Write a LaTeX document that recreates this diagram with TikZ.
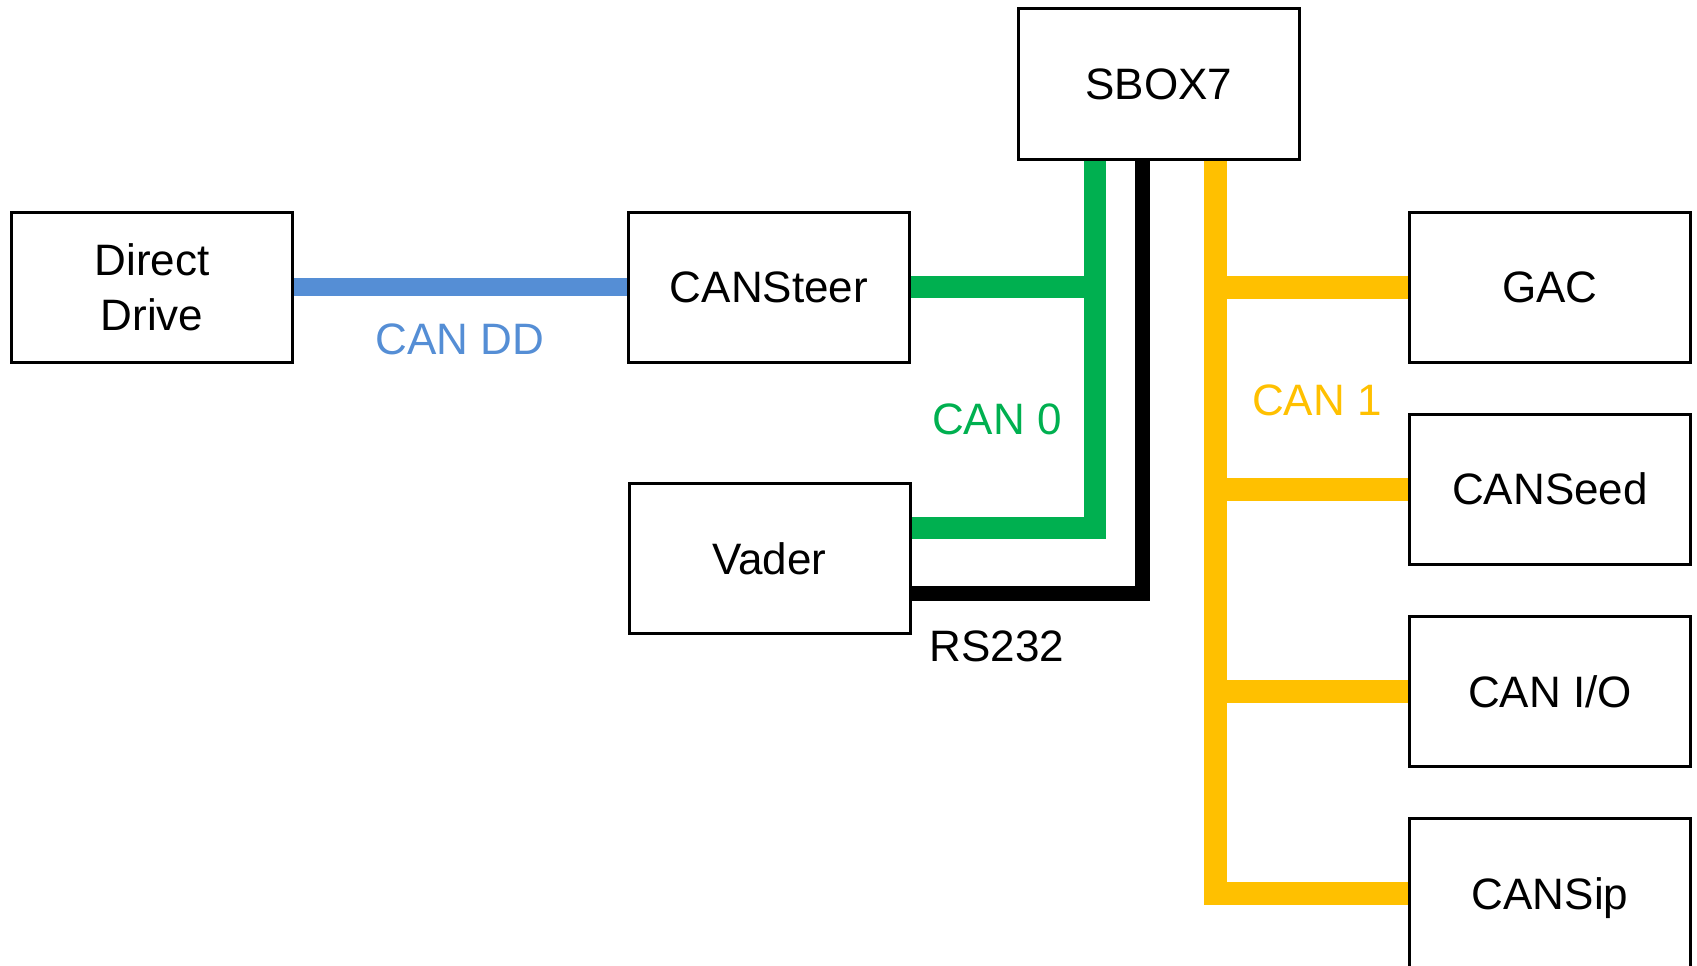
\documentclass[tikz,border=0pt]{standalone}
\usepackage{fontspec}
\setmainfont{Liberation Sans}
\usetikzlibrary{calc,backgrounds}
\definecolor{canblue}{HTML}{558ED5}
\definecolor{cangreen}{HTML}{00B050}
\definecolor{canyellow}{HTML}{FFC000}
\begin{document}
\begin{tikzpicture}[x=1pt,y=-1pt,
  box/.style={draw=black, fill=white, line width=3pt, minimum width=281pt, minimum height=150pt,
    inner sep=0pt, outer sep=0pt, font=\fontsize{44}{55}\selectfont, align=center},
  caps/.style={text height=31.5pt, text depth=0pt},
  lbl/.style={inner sep=0pt, font=\fontsize{44}{55}\selectfont, text height=31.5pt, text depth=0pt},
  ddbus/.style={line width=18pt, canblue},
  greenbus/.style={line width=22pt, cangreen},
  rsbus/.style={line width=15pt, black},
  yellowbus/.style={line width=23pt, canyellow}
]
\useasboundingbox (0,0) rectangle (1697,966);

\node[box, caps] (sbox) at (1159,84) {SBOX7};
\node[box] (dd) at (152,287) {Direct\\Drive};
\node[box, caps] (steer) at (769,287) {CANSteer};
\node[box, caps] (vader) at (769.5,558.5) {Vader};
\node[box, caps] (gac) at (1550,287) {GAC};
\node[box, caps] (seed) at (1550,489) {CANSeed};
\node[box, caps] (io) at (1550,691.5) {CAN I/O};
\node[box, caps] (sip) at (1550,893.5) {CANSip};

\node[lbl, text=canblue] (ldd) at (460,339) {CAN DD};
\node[lbl, text=cangreen] (lzero) at (997,419) {CAN 0};
\node[lbl, text=canyellow] (lone) at (1317,400) {CAN 1};
\node[lbl] (lrs) at (997,646) {RS232};

\coordinate (gtop) at ([xshift=-64pt]sbox.south);
\coordinate (btop) at ([xshift=-17pt]sbox.south);
\coordinate (ytop) at ([xshift=56pt]sbox.south);
\coordinate (vg) at ([yshift=31pt]vader.east);
\coordinate (vb) at ([yshift=-34.5pt]vader.east);

\begin{pgfonlayer}{background}
\draw[ddbus] (dd.east) -- (steer.west);
\draw[greenbus] (gtop) |- (vg);
\draw[greenbus] (steer.east) -- (steer.east -| gtop);
\draw[rsbus] (btop) |- (vb);
\draw[yellowbus] (ytop) |- (sip.west);
\draw[yellowbus] (gac.west) -- (gac.west -| ytop);
\draw[yellowbus] (seed.west) -- (seed.west -| ytop);
\draw[yellowbus] (io.west) -- (io.west -| ytop);
\end{pgfonlayer}
\end{tikzpicture}
\end{document}
